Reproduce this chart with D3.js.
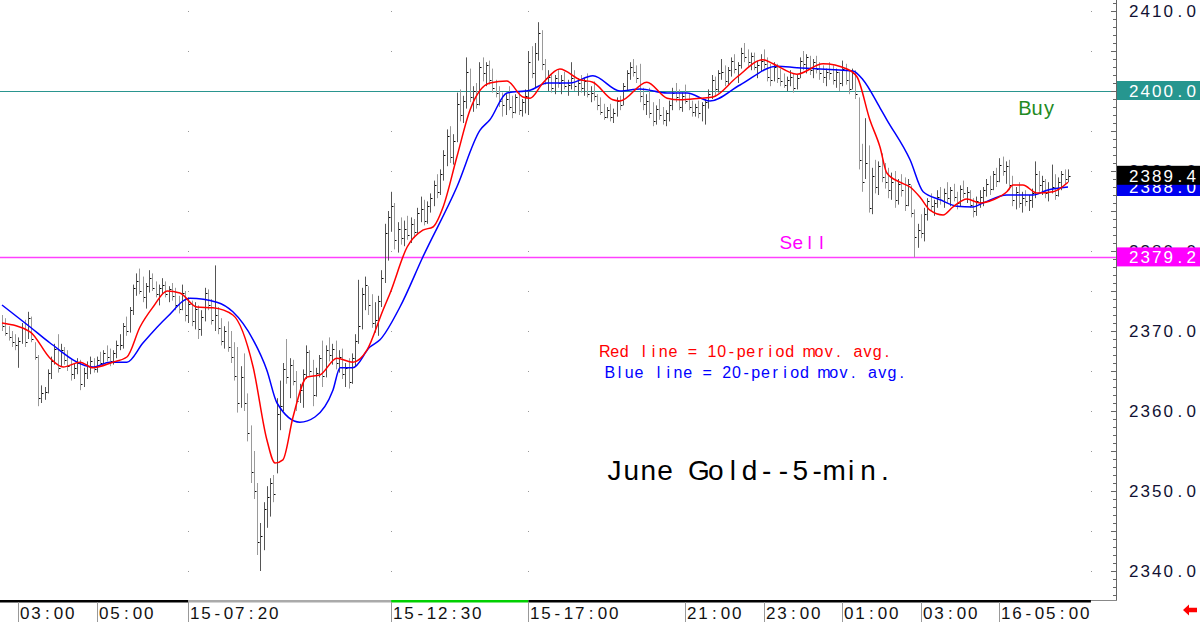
<!DOCTYPE html>
<html>
<head>
<meta charset="utf-8">
<script src="https://cdn.jsdelivr.net/npm/d3@7"></script>
<style>
  html, body { margin: 0; padding: 0; background: #fff; }
  svg { display: block; }
</style>
</head>
<body>
<svg id="chart" width="1200" height="622"></svg>
<script>
// 5-min bars, index 0 = first bar on the left
const highs = [
  2372.0,2371.6,2370.6,2370.0,2369.6,2369.2,2371.0,2371.4,2372.4,2371.8,
  2368.6,2367.0,2363.2,2363.0,2365.2,2366.8,2368.4,2369.6,2368.4,2368.0,
  2367.6,2366.4,2366.0,2366.6,2366.4,2365.4,2366.2,2366.8,2366.6,2366.8,
  2367.4,2367.6,2368.2,2367.8,2367.6,2368.8,2369.6,2371.0,2371.8,2373.0,
  2375.8,2377.2,2377.8,2376.8,2376.0,2377.6,2377.2,2376.2,2375.8,2376.6,
  2376.2,2375.6,2376.0,2375.4,2374.4,2375.8,2375.0,2374.2,2373.8,2373.6,
  2373.2,2372.6,2375.4,2375.2,2374.0,2378.2,2373.0,2371.6,2370.6,2371.2,
  2370.0,2368.6,2368.0,2365.6,2367.2,2362.2,2358.2,2355.0,2351.0,2346.0,
  2348.6,2350.6,2351.6,2352.0,2361.6,2363.8,2366.0,2369.0,2366.6,2366.4,
  2365.0,2363.4,2365.2,2368.2,2367.6,2366.4,2365.4,2367.0,2368.8,2368.2,
  2369.2,2368.4,2368.8,2367.6,2367.8,2366.0,2366.6,2367.2,2369.6,2376.4,
  2375.4,2376.8,2375.6,2374.6,2373.6,2374.4,2377.6,2383.4,2385.0,2387.4,
  2386.0,2383.6,2384.2,2383.8,2384.4,2384.2,2384.0,2385.4,2386.8,2386.4,
  2386.2,2387.2,2388.8,2389.6,2390.2,2392.6,2395.2,2395.6,2394.6,2399.8,
  2400.2,2399.4,2404.2,2402.8,2400.6,2401.0,2403.6,2404.2,2403.6,2403.8,
  2402.8,2401.4,2400.6,2399.8,2399.6,2400.6,2399.4,2399.6,2400.0,2399.0,
  2400.2,2405.0,2405.6,2406.0,2408.6,2407.6,2404.0,2402.6,2402.2,2402.0,
  2402.6,2402.0,2402.4,2401.4,2403.6,2402.6,2401.6,2402.0,2401.6,2402.2,
  2400.6,2401.2,2399.6,2399.2,2398.4,2398.0,2398.4,2397.8,2399.2,2399.4,
  2401.0,2402.6,2403.6,2404.0,2403.2,2403.4,2400.4,2399.6,2400.4,2398.6,
  2398.2,2399.0,2398.0,2397.6,2398.8,2400.4,2401.0,2400.2,2399.8,2400.8,
  2399.6,2398.8,2398.4,2398.8,2398.6,2399.0,2400.2,2402.0,2401.8,2402.6,
  2404.0,2403.2,2403.0,2404.2,2404.6,2403.6,2405.4,2406.0,2405.2,2404.8,
  2404.8,2403.8,2404.6,2405.2,2404.2,2403.4,2403.6,2403.4,2402.8,2402.2,
  2401.8,2402.6,2402.2,2402.0,2404.2,2405.0,2404.6,2404.4,2404.0,2404.4,
  2403.6,2403.2,2402.8,2403.6,2403.2,2402.8,2402.4,2403.8,2403.4,2402.6,
  2402.8,2402.6,2399.2,2393.4,2396.6,2393.2,2390.4,2391.4,2391.2,2392.2,
  2391.0,2390.4,2389.8,2390.0,2389.0,2389.6,2389.2,2389.0,2388.2,2385.2,
  2383.4,2384.6,2385.4,2386.6,2387.2,2386.4,2387.6,2388.0,2387.8,2388.6,
  2388.0,2388.4,2387.4,2388.2,2388.8,2388.0,2387.6,2386.6,2386.8,2387.6,
  2388.0,2389.0,2389.4,2390.0,2390.4,2391.6,2391.8,2391.2,2391.4,2389.4,
  2388.0,2388.6,2387.4,2387.6,2387.0,2387.8,2391.2,2390.0,2389.4,2389.0,
  2388.6,2390.8,2389.6,2389.2,2390.0,2390.2,2390.2
];
const lows = [
  2370.0,2369.4,2368.8,2368.0,2367.6,2365.4,2368.4,2368.0,2369.0,2368.6,
  2366.4,2360.6,2361.0,2361.4,2362.2,2364.0,2365.8,2364.8,2365.6,2365.8,
  2365.0,2363.8,2364.0,2364.6,2362.6,2363.0,2364.0,2364.6,2364.8,2364.8,
  2365.6,2365.8,2366.2,2365.6,2365.8,2366.6,2367.6,2367.8,2369.4,2369.8,
  2372.0,2374.4,2374.6,2373.6,2372.8,2374.8,2375.0,2374.2,2373.2,2374.6,
  2374.2,2373.6,2373.8,2372.6,2372.2,2372.6,2371.2,2371.0,2370.6,2370.2,
  2369.0,2369.4,2371.2,2372.6,2370.8,2370.0,2369.6,2368.2,2367.8,2367.4,
  2366.0,2363.8,2359.8,2360.4,2360.0,2356.2,2351.0,2349.0,2342.0,2340.0,
  2342.6,2345.4,2346.8,2348.6,2352.2,2357.6,2360.0,2363.4,2361.6,2363.2,
  2360.0,2361.0,2360.4,2364.0,2364.4,2360.6,2361.8,2364.2,2363.0,2364.2,
  2366.2,2365.8,2365.2,2364.8,2364.0,2363.0,2362.8,2363.4,2365.6,2368.4,
  2370.2,2372.6,2372.0,2370.4,2369.8,2369.4,2373.0,2376.0,2378.8,2382.4,
  2380.2,2379.8,2380.8,2380.6,2381.4,2381.0,2381.6,2382.2,2383.6,2383.2,
  2383.4,2384.8,2385.6,2386.6,2387.0,2388.8,2390.6,2391.0,2390.8,2393.6,
  2396.2,2396.0,2397.8,2398.6,2397.4,2397.8,2398.2,2401.2,2400.6,2400.8,
  2399.8,2399.2,2398.0,2396.8,2397.0,2397.6,2396.6,2397.2,2397.0,2396.8,
  2397.2,2397.0,2401.6,2400.4,2403.8,2402.6,2400.8,2400.0,2399.8,2399.6,
  2400.4,2399.6,2400.2,2399.4,2400.2,2400.0,2399.4,2399.8,2399.4,2399.2,
  2398.6,2398.8,2397.6,2397.0,2396.4,2396.6,2396.2,2396.0,2396.8,2397.6,
  2398.2,2400.0,2401.4,2401.8,2401.0,2398.6,2397.6,2397.0,2396.6,2395.6,
  2395.8,2396.4,2395.8,2395.6,2396.2,2397.6,2398.6,2397.6,2397.4,2398.4,
  2397.6,2396.8,2396.8,2396.6,2396.2,2395.8,2397.8,2399.0,2399.4,2399.8,
  2401.4,2400.6,2400.8,2401.8,2402.2,2401.0,2402.8,2403.6,2403.0,2402.6,
  2402.6,2401.6,2402.4,2402.8,2401.2,2400.6,2401.2,2401.0,2400.6,2400.4,
  2400.0,2400.6,2399.8,2400.2,2401.6,2402.6,2402.2,2402.0,2401.6,2402.2,
  2401.4,2401.0,2400.6,2401.4,2400.8,2400.4,2400.0,2400.6,2400.8,2399.6,
  2400.2,2399.0,2390.2,2387.4,2389.0,2384.8,2384.6,2387.2,2387.0,2388.6,
  2387.8,2386.6,2386.4,2385.4,2385.8,2386.8,2385.0,2385.6,2384.2,2379.2,
  2380.4,2381.6,2381.2,2383.8,2385.0,2384.4,2385.4,2385.8,2385.4,2386.0,
  2385.6,2386.2,2385.2,2385.6,2386.6,2386.0,2385.4,2384.2,2384.4,2385.4,
  2385.6,2386.8,2387.0,2387.6,2388.0,2388.6,2389.4,2388.4,2387.6,2385.6,
  2385.2,2385.4,2384.8,2385.6,2385.0,2385.4,2386.6,2387.4,2387.0,2386.6,
  2386.2,2387.2,2386.4,2386.8,2387.6,2388.4,2388.6
];
const closes = [
  2370.6,2369.8,2369.2,2368.6,2368.2,2368.8,2370.4,2368.6,2371.6,2369.0,
  2366.8,2361.6,2362.2,2362.4,2364.8,2366.2,2367.8,2365.4,2367.6,2366.4,
  2365.6,2364.6,2365.4,2366.0,2363.4,2364.8,2365.6,2366.2,2365.2,2366.4,
  2366.0,2367.2,2366.8,2366.2,2367.2,2368.2,2368.2,2370.6,2370.0,2372.6,
  2375.4,2376.2,2375.0,2374.2,2375.6,2376.6,2375.4,2374.6,2375.4,2375.8,
  2374.6,2375.2,2374.4,2373.2,2372.8,2374.8,2372.0,2373.4,2371.2,2372.8,
  2370.2,2371.8,2374.8,2373.2,2371.4,2372.0,2370.4,2368.8,2370.0,2368.0,
  2366.8,2364.4,2361.0,2364.2,2361.0,2357.2,2352.4,2350.0,2343.6,2344.4,
  2347.8,2349.2,2351.0,2349.6,2359.6,2360.6,2365.2,2364.2,2365.8,2363.8,
  2361.2,2362.6,2364.6,2367.4,2365.0,2362.0,2364.8,2366.6,2364.4,2367.6,
  2367.0,2367.8,2366.0,2366.8,2364.6,2365.4,2363.6,2366.6,2368.8,2370.6,
  2374.6,2375.8,2373.2,2371.0,2371.4,2373.8,2376.6,2382.2,2384.2,2385.6,
  2381.4,2382.8,2381.6,2382.8,2382.0,2383.4,2382.4,2384.8,2385.2,2383.8,
  2385.6,2386.6,2388.2,2387.4,2389.6,2392.0,2394.4,2391.8,2393.8,2398.4,
  2397.0,2398.8,2402.4,2399.2,2400.0,2398.4,2403.0,2402.2,2403.2,2401.4,
  2400.4,2399.8,2398.8,2398.2,2399.0,2398.0,2397.4,2399.2,2397.6,2398.6,
  2399.4,2403.6,2402.2,2404.8,2407.2,2403.4,2401.6,2401.8,2400.4,2401.6,
  2401.0,2401.4,2400.6,2400.8,2401.6,2400.6,2401.0,2400.4,2401.2,2399.6,
  2399.8,2399.4,2398.2,2397.4,2396.8,2397.6,2396.8,2397.2,2398.8,2398.2,
  2400.6,2402.2,2403.0,2402.4,2401.6,2399.4,2398.4,2398.8,2397.2,2396.2,
  2397.8,2397.0,2396.4,2397.2,2398.2,2399.8,2399.2,2398.0,2399.4,2398.8,
  2398.0,2397.4,2398.0,2397.2,2398.2,2398.6,2399.6,2401.4,2400.2,2402.2,
  2402.4,2401.2,2402.6,2403.8,2402.8,2403.2,2404.8,2404.2,2403.6,2404.4,
  2403.0,2403.2,2403.8,2403.4,2401.8,2401.4,2403.0,2401.6,2401.2,2400.8,
  2401.4,2401.8,2400.4,2401.6,2403.8,2403.4,2404.2,2402.6,2403.6,2402.8,
  2402.2,2401.8,2402.4,2402.2,2401.4,2402.4,2401.0,2402.8,2401.4,2400.2,
  2402.2,2399.6,2391.4,2388.6,2391.0,2385.4,2389.4,2388.0,2390.6,2389.2,
  2388.6,2387.6,2388.6,2386.4,2388.4,2387.6,2385.8,2388.4,2384.8,2381.8,
  2382.6,2382.2,2384.6,2386.2,2385.6,2386.0,2386.8,2386.4,2387.2,2386.6,
  2387.6,2386.8,2386.0,2387.8,2387.2,2387.4,2385.8,2385.0,2386.2,2386.8,
  2387.6,2388.4,2387.8,2389.6,2388.8,2390.8,2390.0,2390.6,2388.2,2386.4,
  2387.4,2386.0,2386.6,2386.2,2386.4,2387.2,2389.6,2388.2,2388.8,2387.2,
  2387.8,2388.0,2387.0,2388.6,2389.6,2389.0,2389.4
];

// moving averages: [bar index, price]
const ma10 = [
  [0,2371.0],[8.6,2369.9],[14.7,2366.6],[18.7,2365.5],[23.9,2366.1],[27.8,2365.4],
  [33.9,2366.1],[38.2,2366.75],[42.2,2370.5],[46.2,2373.0],[50.5,2375.0],[54.4,2374.75],
  [59.6,2373.0],[64.5,2372.9],[70.6,2372.0],[76.8,2365.5],[81.0,2356.4],[83.5,2353.5],
  [85.9,2353.9],[89.0,2359.25],[93.3,2364.25],[97.2,2364.5],[102.4,2366.6],[107.3,2366.1],
  [111.6,2367.6],[116.5,2372.6],[118.7,2374.75],[123.9,2380.5],[128.7,2382.6],[131.8,2383.0],
  [134.9,2385.5],[139.1,2391.75],[143.1,2397.6],[149.2,2401.0],[154.4,2401.25],[159.3,2399.25],
  [161.5,2399.1],[165.4,2401.0],[170.6,2402.75],[176.8,2401.4],[180.7,2401.1],[186.8,2398.9],
  [189.0,2398.75],[197.2,2401.1],[203.4,2399.1],[207.3,2398.9],[213.5,2399.1],[217.4,2399.25],
  [224.8,2401.75],[232.7,2403.9],[235.8,2403.4],[243.1,2402.1],[251.1,2403.4],[258.4,2402.75],
  [261.5,2401.75],[265.4,2396.4],[268.5,2393.0],[270.6,2389.75],[274.6,2388.6],[277.7,2388.0],
  [280.7,2386.75],[283.8,2385.1],[287.8,2384.5],[290.8,2385.5],[295.1,2386.5],[299.1,2386.0],
  [303.1,2386.4],[307.3,2387.4],[309.2,2388.25],[312.2,2388.25],[316.5,2387.25],[321.4,2387.4],
  [326,2388.6]
];
const ma20 = [
  [0,2373.25],[8.6,2370.5],[14.7,2368.5],[27.8,2365.5],[33.0,2366.1],[38.2,2366.1],
  [43.1,2368.5],[50.5,2371.75],[57.5,2374.1],[65.7,2373.6],[70.6,2372.4],[76.8,2368.9],
  [81.0,2365.1],[84.1,2361.0],[91.1,2358.6],[95.7,2359.25],[101.2,2362.6],[103.4,2365.4],
  [107.3,2365.4],[112.5,2368.0],[115.6,2368.9],[121.7,2373.0],[128.7,2379.25],[139.1,2388.0],
  [146.2,2395.1],[149.2,2396.4],[154.4,2399.75],[161.5,2400.1],[166.7,2401.0],[173.7,2401.0],
  [180.7,2401.9],[189.0,2400.0],[195.1,2400.25],[203.4,2399.75],[209.5,2399.75],[216.5,2398.75],
  [225.7,2400.75],[237.0,2403.1],[243.1,2402.9],[260.2,2402.5],[263.3,2401.4],[268.5,2397.9],
  [270.6,2396.4],[277.7,2391.4],[281.7,2387.4],[286.9,2386.4],[292.0,2385.6],[296.9,2385.5],
  [300.0,2386.0],[307.3,2387.0],[315.3,2387.0],[319.6,2387.6],[326,2388.0]
];

// time labels (bar index where the label starts)
const timeLabels = [
  [5,'03:00'],[29,'05:00'],[57,'15-07:20'],[119,'15-12:30'],[161,'15-17:00'],
  [209,'21:00'],[233,'23:00'],[257,'01:00'],[281,'03:00'],[305,'16-05:00']
];
// coloured band under the plot: [from index, to index, colour]
const sessionBand = [[-1, 57, '#000'], [57, 119, '#aaa'], [119, 161, '#00d000'], [161, 333, '#000']];
const gridCols = [57, 119, 161, 333];
const priceLabels = [2340, 2350, 2360, 2370, 2380, 2390, 2400, 2410];

const buyLevel = 2400.0;
const sellLevel = 2379.2;
const lastClose = 2389.4;
const lastMa20 = 2388.0;

// ---------------------------------------------------------------
const svg = d3.select('#chart');
const plotRight = 1116;
const plotBottom = 600;

const x = d3.scaleLinear().domain([0, 326]).range([2, 1068]);
const y = d3.scaleLinear().domain([2340, 2410]).range([571, 11]);

const FONT = '"Liberation Sans", Arial, sans-serif';

// text drawn in fixed-width cells (chart package style)
function cellText(g, str, x0, baseline, cell, size, color) {
  const t = g.append('text')
    .attr('y', baseline)
    .attr('fill', color)
    .attr('text-anchor', 'middle')
    .style('font-family', FONT)
    .style('font-size', size + 'px');
  str.split('').forEach((ch, k) => {
    t.append('tspan').attr('x', x0 + cell * (k + 0.5)).text(ch);
  });
  return t;
}

svg.append('rect').attr('width', 1200).attr('height', 622).attr('fill', '#fff');

// grid dots
const dots = svg.append('g');
gridCols.forEach(c => {
  d3.range(2340, 2411, 5).forEach(v => {
    dots.append('rect')
      .attr('x', Math.round(x(c))).attr('y', Math.round(y(v)))
      .attr('width', 1).attr('height', 1).attr('fill', '#999');
  });
});

// buy / sell lines
svg.append('line')
  .attr('x1', 0).attr('x2', plotRight)
  .attr('y1', Math.round(y(buyLevel)) + 0.5).attr('y2', Math.round(y(buyLevel)) + 0.5)
  .attr('stroke', '#2a958f').attr('stroke-width', 1.2);
svg.append('line')
  .attr('x1', 0).attr('x2', plotRight)
  .attr('y1', Math.round(y(sellLevel)) + 0.5).attr('y2', Math.round(y(sellLevel)) + 0.5)
  .attr('stroke', '#ff40ff').attr('stroke-width', 1.4);

// price bars
const bars = svg.append('g');
closes.forEach((c, i) => {
  const bx = Math.round(x(i)) + 0.5;
  bars.append('line')
    .attr('x1', bx).attr('x2', bx)
    .attr('y1', y(highs[i])).attr('y2', y(lows[i]))
    .attr('stroke', i > 0 && c >= closes[i - 1] ? '#555' : '#9a9a9a')
    .attr('stroke-width', 1);
  bars.append('rect')
    .attr('x', bx + 0.5).attr('y', Math.round(y(c)))
    .attr('width', 1.5).attr('height', 1)
    .attr('fill', '#000');
});

// moving averages
const maLine = d3.line()
  .x(d => x(d[0]))
  .y(d => y(d[1]))
  .curve(d3.curveMonotoneX);

svg.append('path').datum(ma20)
  .attr('fill', 'none').attr('stroke', '#0000ff').attr('stroke-width', 1.5)
  .attr('d', maLine);
svg.append('path').datum(ma10)
  .attr('fill', 'none').attr('stroke', '#ff0000').attr('stroke-width', 1.5)
  .attr('d', maLine);

// right price axis
const axisG = svg.append('g').attr('transform', `translate(${plotRight},0)`);
axisG.call(d3.axisLeft(y)
  .tickValues(d3.range(2337, 2412))
  .tickSize(3)
  .tickFormat(''));
axisG.select('.domain').remove();
axisG.selectAll('.tick line')
  .attr('stroke', '#666')
  .attr('x2', d => d % 5 === 0 ? -5 : -3);
svg.append('line')
  .attr('x1', plotRight + 0.5).attr('x2', plotRight + 0.5)
  .attr('y1', 0).attr('y2', plotBottom)
  .attr('stroke', '#666');
svg.append('line')
  .attr('x1', 1090).attr('x2', plotRight + 1)
  .attr('y1', plotBottom + 0.5).attr('y2', plotBottom + 0.5)
  .attr('stroke', '#888');

priceLabels.forEach(v => {
  cellText(svg, v.toFixed(1), 1128, y(v) + 6, 11.5, 17, '#111133');
});

// value boxes on the axis
const boxes = [
  [buyLevel, '#26968f'],
  [lastMa20, '#0000f0'],
  [lastClose, '#000'],
  [sellLevel, '#ff00ff']
];
boxes.forEach(([v, col]) => {
  svg.append('rect')
    .attr('x', plotRight + 1).attr('y', y(v) - 10)
    .attr('width', 1200 - plotRight - 1).attr('height', 19)
    .attr('fill', col);
  cellText(svg, v.toFixed(1), 1128, y(v) + 6, 11.5, 17, '#fff');
});

// session band + time axis
sessionBand.forEach(([a, b, col]) => {
  const x0 = a < 0 ? 0 : x(a);
  svg.append('rect')
    .attr('x', x0).attr('y', plotBottom)
    .attr('width', x(b) - x0).attr('height', 2.5)
    .attr('fill', col);
});
timeLabels.forEach(([i, t]) => {
  const lx = Math.round(x(i)) + 0.5;
  svg.append('line')
    .attr('x1', lx).attr('x2', lx)
    .attr('y1', plotBottom + 2).attr('y2', 622)
    .attr('stroke', '#999');
  cellText(svg, t, lx + 0.5, 619, 11.3, 17, '#111');
});

// red arrow bottom right
svg.append('path')
  .attr('d', 'M1183,610 L1189,604.5 L1189,607.8 L1197,607.8 L1197,612.2 L1189,612.2 L1189,615.5 Z')
  .attr('fill', '#ff0000');

// annotations
cellText(svg, 'Buy', 1019, 115, 12, 20, '#238a23');
cellText(svg, 'Sell', 780, 249, 11.8, 19, '#ff00ff');
cellText(svg, 'Red line = 10-period mov. avg.', 600, 357, 9.73, 16, '#ff0000');
cellText(svg, 'Blue line = 20-period mov. avg.', 605, 378, 9.73, 16, '#0000ff');
cellText(svg, 'June Gold--5-min.', 606, 480, 16.9, 28, '#000');
</script>
</body>
</html>
